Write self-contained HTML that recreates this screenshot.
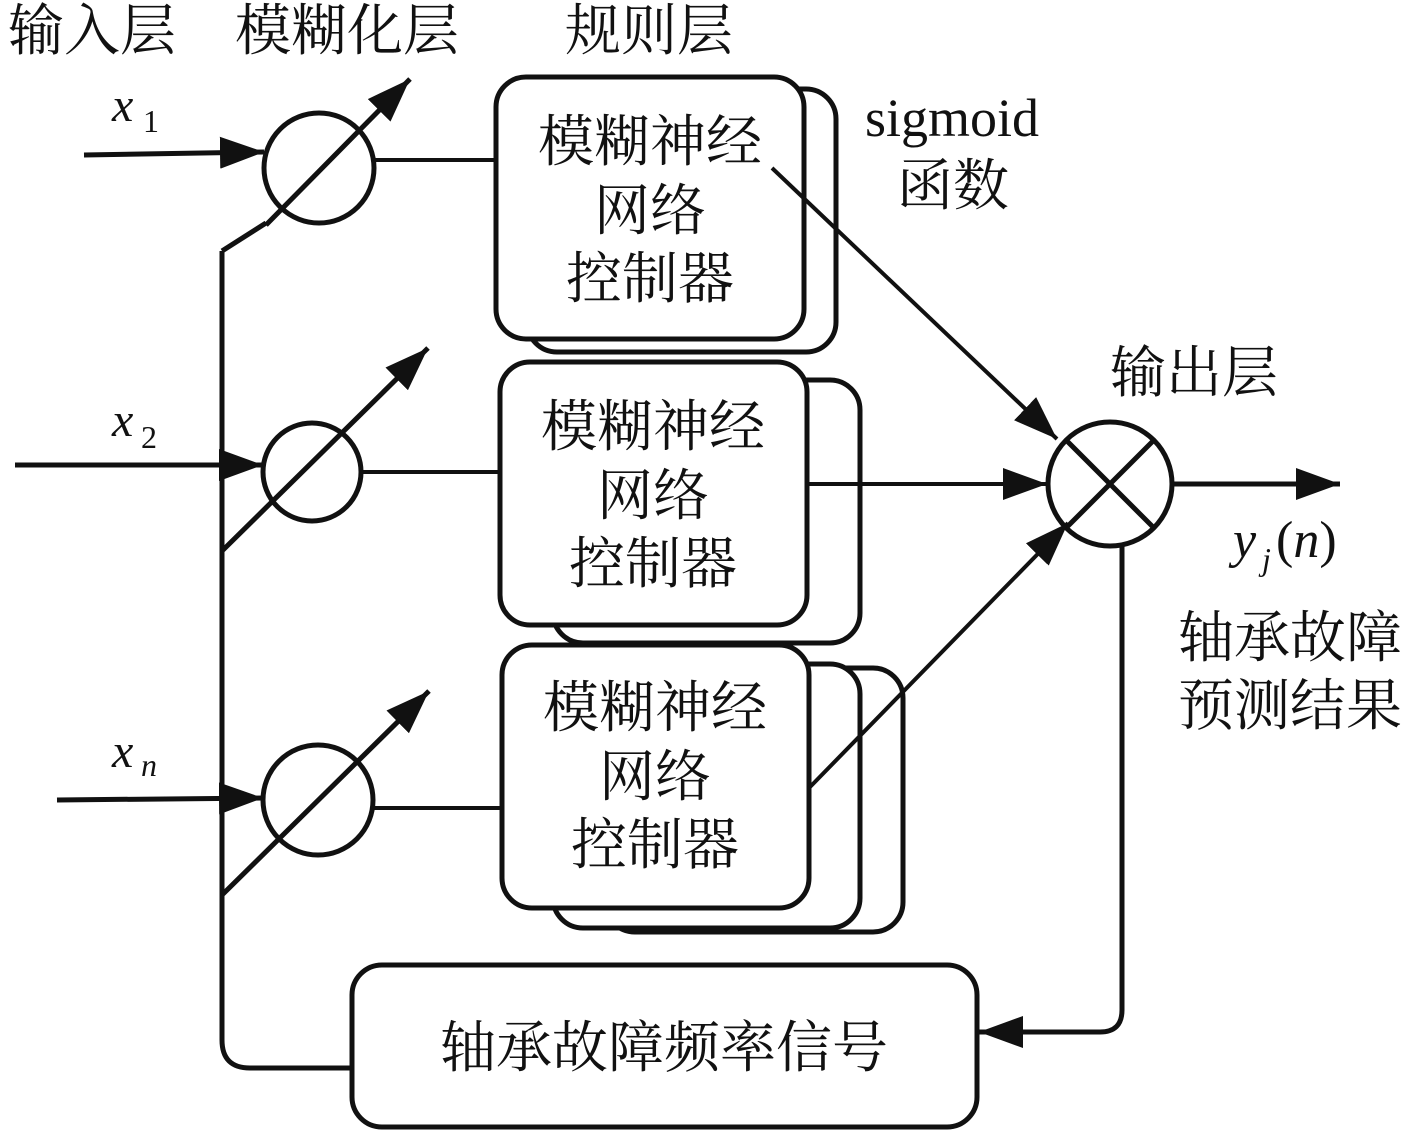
<!DOCTYPE html>
<html><head><meta charset="utf-8"><style>
html,body{margin:0;padding:0;background:#fff}
svg{display:block}
.cj{font-family:"Liberation Serif","Noto Serif CJK SC",serif;font-size:56px;fill:#111}
.it{font-family:"Liberation Serif",serif;font-style:italic;fill:#111}
</style></head><body>
<svg width="1417" height="1131" viewBox="0 0 1417 1131" xmlns="http://www.w3.org/2000/svg">
<defs>
<marker id="a" viewBox="0 0 44 32" refX="44" refY="16" markerWidth="44" markerHeight="32" markerUnits="userSpaceOnUse" orient="auto">
<path d="M0,0 L44,16 L0,32 Z" fill="#111"/></marker>
</defs>
<g fill="none" stroke="#111" stroke-width="5">
<rect x="527" y="89" width="309" height="263" rx="30" fill="#fff"/>
<rect x="496" y="77" width="308" height="262" rx="30" fill="#fff"/>
<rect x="553" y="380" width="307" height="263" rx="30" fill="#fff"/>
<rect x="500" y="362" width="307" height="263" rx="30" fill="#fff"/>
<rect x="605" y="668" width="298" height="264" rx="30" fill="#fff"/>
<rect x="553" y="664" width="307" height="264" rx="30" fill="#fff"/>
<rect x="502" y="645" width="307" height="263" rx="30" fill="#fff"/>
<rect x="352" y="965" width="625" height="162" rx="30" fill="#fff"/>
<circle cx="319" cy="168" r="55"/>
<circle cx="312" cy="472" r="49"/>
<circle cx="318" cy="800" r="55"/>
<circle cx="1110" cy="484" r="62"/>
<line x1="1066" y1="440" x2="1154" y2="528"/>
<line x1="1154" y1="440" x2="1066" y2="528"/>
<line x1="84" y1="155" x2="264" y2="152" marker-end="url(#a)"/>
<line x1="15" y1="465" x2="263" y2="465" marker-end="url(#a)"/>
<line x1="57" y1="800" x2="263" y2="798" marker-end="url(#a)"/>
<path d="M222,251 L222,1040 Q222,1068 250,1068 L352,1068"/>
<line x1="222" y1="251" x2="266" y2="223"/>
<line x1="266" y1="225" x2="410" y2="79" marker-end="url(#a)"/>
<line x1="222" y1="551" x2="428" y2="348" marker-end="url(#a)"/>
<line x1="222" y1="895" x2="429" y2="691" marker-end="url(#a)"/>
<line x1="374" y1="160" x2="496" y2="160" stroke-width="4"/>
<line x1="361" y1="472" x2="500" y2="472" stroke-width="4"/>
<line x1="373" y1="808" x2="502" y2="808" stroke-width="4"/>
<line x1="772" y1="168" x2="1057" y2="439" stroke-width="4" marker-end="url(#a)"/>
<line x1="807" y1="484" x2="1047" y2="484" stroke-width="4" marker-end="url(#a)"/>
<line x1="809" y1="788" x2="1068" y2="523" stroke-width="4" marker-end="url(#a)"/>
<line x1="1172" y1="484" x2="1340" y2="484" marker-end="url(#a)"/>
<path d="M1122,545 L1122,1010 Q1122,1032 1100,1032 L979,1032" marker-end="url(#a)"/>
</g>
<text class="cj" x="8" y="50">输入层</text>
<text class="cj" x="235" y="50">模糊化层</text>
<text class="cj" x="565" y="50">规则层</text>
<text x="952" y="136" text-anchor="middle" font-family="Liberation Serif,serif" font-size="54" fill="#111">sigmoid</text>
<text class="cj" x="953" y="205" text-anchor="middle">函数</text>
<text class="cj" x="1194" y="392" text-anchor="middle">输出层</text>
<text class="cj" x="1290" y="657" text-anchor="middle">轴承故障</text>
<text class="cj" x="1290" y="725" text-anchor="middle">预测结果</text>
<g class="cj" text-anchor="middle">
<text x="650" y="161">模糊神经</text><text x="650" y="230">网络</text><text x="650" y="298">控制器</text>
<text x="653" y="446">模糊神经</text><text x="653" y="515">网络</text><text x="653" y="583">控制器</text>
<text x="655" y="727">模糊神经</text><text x="655" y="796">网络</text><text x="655" y="864">控制器</text>
<text x="664" y="1067">轴承故障频率信号</text>
</g>
<text class="it" x="112" y="121" font-size="48">x</text><text x="143" y="132" font-family="Liberation Serif,serif" font-size="32" fill="#111">1</text>
<text class="it" x="112" y="436" font-size="48">x</text><text x="141" y="448" font-family="Liberation Serif,serif" font-size="32" fill="#111">2</text>
<text class="it" x="112" y="767" font-size="48">x</text><text class="it" x="141" y="776" font-size="32">n</text>
<text class="it" x="1233" y="557" font-size="52">y</text><text class="it" x="1262" y="570" font-size="32">j</text>
<text x="1276" y="557" font-family="Liberation Serif,serif" font-size="52" fill="#111">(<tspan font-style="italic">n</tspan>)</text>
</svg>
</body></html>
